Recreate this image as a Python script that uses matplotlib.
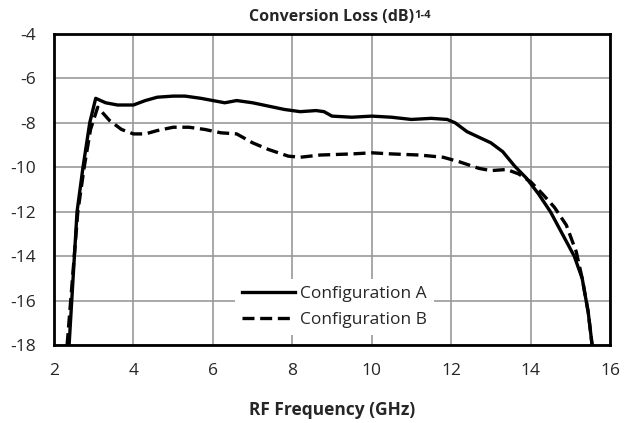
import matplotlib
matplotlib.use('Agg')
import matplotlib.pyplot as plt

plt.rcParams['font.family'] = ['Open Sans', 'DejaVu Sans']

# Configuration A (solid)
freq_a = [2.38, 2.58, 2.73, 2.9, 3.05, 3.3, 3.6, 4.0, 4.3, 4.6, 5.0, 5.3, 5.7, 6.0, 6.3, 6.6,
          7.0, 7.4, 7.8, 8.2, 8.6, 8.8, 9.0, 9.5, 10.0, 10.5, 11.0, 11.5, 11.9, 12.1,
          12.4, 12.7, 13.0, 13.3, 13.6, 13.9, 14.2, 14.5, 14.8, 15.1, 15.3, 15.45, 15.55]
loss_a = [-18.0, -12.0, -10.0, -8.0, -6.9, -7.1, -7.2, -7.2, -7.0, -6.85, -6.8, -6.8, -6.9,
          -7.0, -7.1, -7.0, -7.1, -7.25, -7.4, -7.5, -7.45, -7.5, -7.7, -7.75, -7.7, -7.75,
          -7.85, -7.8, -7.85, -8.0, -8.4, -8.65, -8.9, -9.3, -9.95, -10.5, -11.2, -12.0,
          -13.0, -14.0, -15.0, -16.5, -18.0]

# Configuration B (dashed)
freq_b = [2.33, 2.6, 2.76, 2.92, 3.1, 3.4, 3.7, 4.0, 4.3, 4.6, 5.0, 5.4, 5.8, 6.2, 6.6, 7.0,
          7.4, 7.9, 8.2, 8.7, 9.5, 10.0, 10.5, 11.2, 11.8, 12.2, 12.7, 13.0, 13.4, 13.7,
          14.0, 14.3, 14.6, 14.9, 15.15, 15.3, 15.45, 15.55]
loss_b = [-18.0, -12.0, -10.0, -8.3, -7.3, -7.9, -8.3, -8.5, -8.5, -8.35, -8.2, -8.2, -8.3,
          -8.45, -8.5, -8.9, -9.2, -9.5, -9.55, -9.45, -9.4, -9.35, -9.4, -9.45, -9.55, -9.75,
          -10.05, -10.15, -10.1, -10.3, -10.65, -11.2, -11.8, -12.6, -13.8, -15.0, -16.5,
          -18.0]

x_ticks = [2, 4, 6, 8, 10, 12, 14, 16]
y_ticks = [-18, -16, -14, -12, -10, -8, -6, -4]

fig = plt.figure(figsize=(6.25, 4.23), dpi=100)
ax = fig.add_axes([0.0864, 0.184, 0.8896, 0.736])

ax.plot(freq_a, loss_a, color='black', linewidth=2.4, label='Configuration A',
        solid_joinstyle='round', zorder=3)
ax.plot(freq_b, loss_b, color='black', linewidth=2.4, linestyle=(0, (3.6, 1.7)),
        label='Configuration B', zorder=3)

ax.set_xlim(2, 16)
ax.set_ylim(-18, -4)
ax.set_xticks(x_ticks)
ax.set_yticks(y_ticks)
ax.set_xticklabels([str(v) for v in x_ticks], fontsize=12.5, color='#262626')
ax.set_yticklabels([str(v) for v in y_ticks], fontsize=12.5, color='#262626')
ax.tick_params(axis='x', length=0, pad=13)
ax.tick_params(axis='y', length=0, pad=13)
ax.grid(True, color='#999999', linewidth=1.2)
ax.set_axisbelow(True)
for s in ax.spines.values():
    s.set_linewidth(2)
    s.set_color('black')

ax.set_xlabel('RF Frequency (GHz)', fontsize=12.5, fontweight='bold', labelpad=16,
              color='#262626')

title = ax.text(0.5, 1.03, 'Conversion Loss (dB)', transform=ax.transAxes,
                ha='center', va='bottom', fontsize=11.5, fontweight='bold', color='#262626')
ax.annotate('1-4', xy=(1, 0.88), xycoords=title, ha='left', va='top',
            fontsize=8, fontweight='bold', color='#262626')

leg = ax.legend(loc='center', bbox_to_anchor=(0.505, 0.122), fontsize=12.5,
                frameon=True, fancybox=False, edgecolor='none', facecolor='white',
                framealpha=1, handlelength=3.05, handletextpad=0.3, labelspacing=0.55,
                borderaxespad=0)
for t in leg.get_texts():
    t.set_color('#262626')

fig.savefig('out.png', dpi=100)
